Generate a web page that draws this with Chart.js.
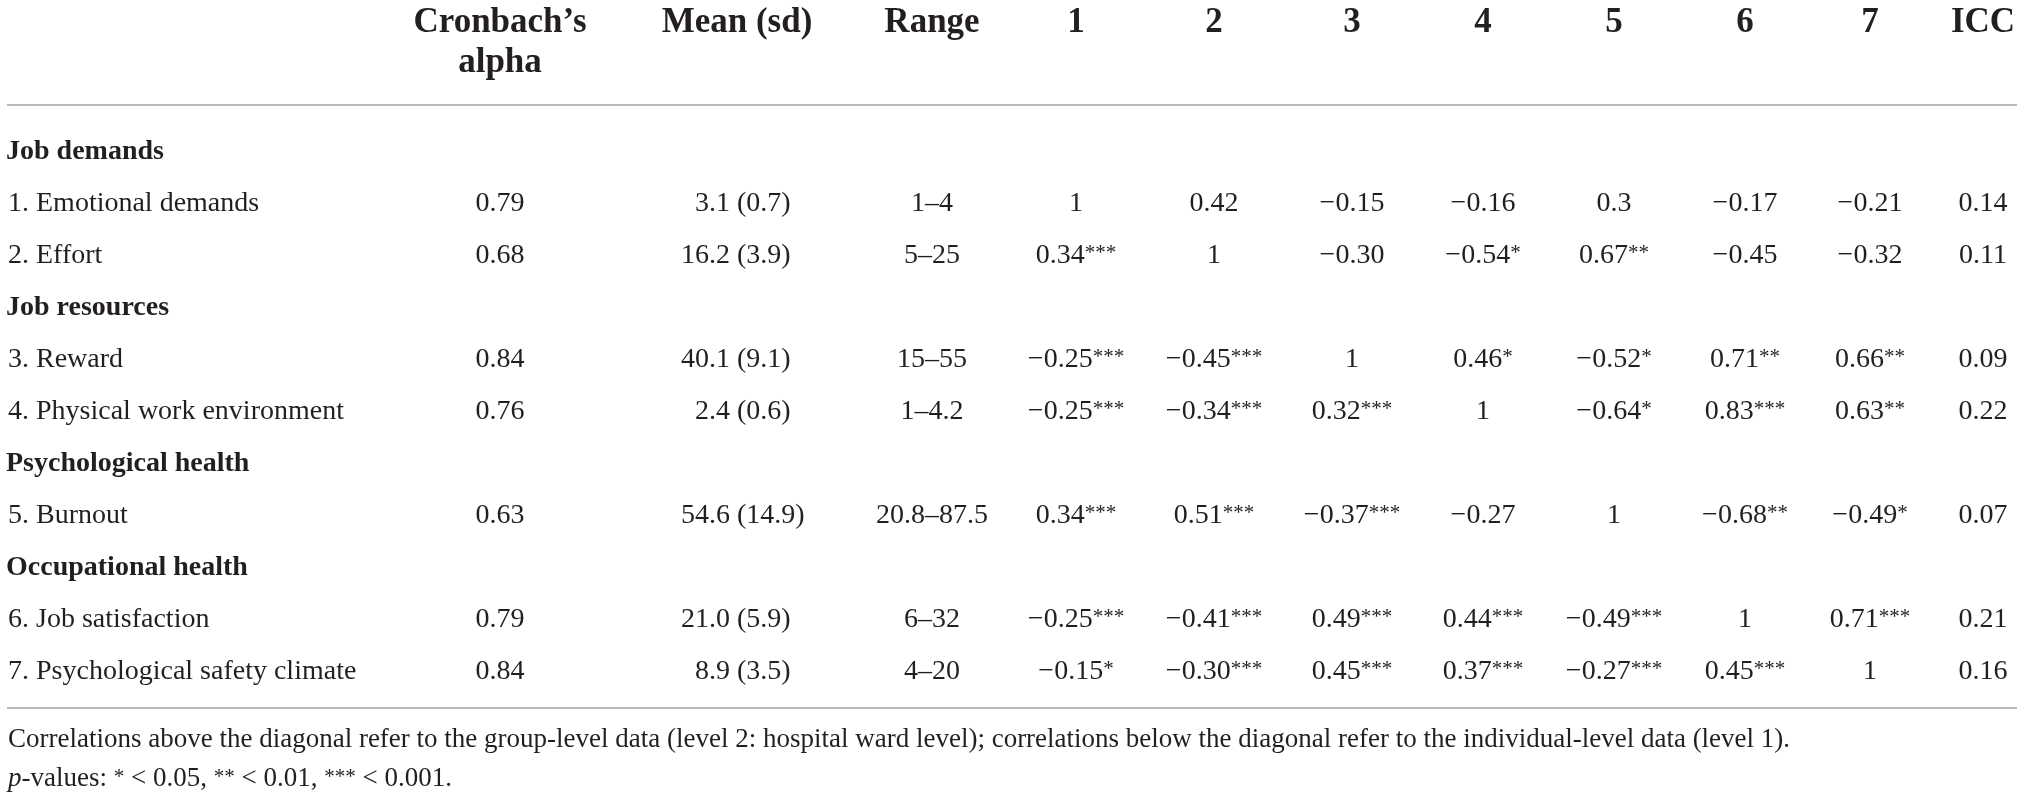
<!DOCTYPE html>
<html>
<head>
<meta charset="utf-8">
<title>Table</title>
<script src="https://cdn.jsdelivr.net/npm/chart.js@4.4.0/dist/chart.umd.min.js"></script>
<style>
    html, body { margin: 0; padding: 0; background: #fff; }
    canvas { display: block; }
</style>
</head>
<body>
<canvas id="canvas" width="2023" height="799"></canvas>
<script>
// --- table contents ---
var colHeaders = [['Cronbach’s', 'alpha'], ['Mean (sd)'], ['Range'], ['1'], ['2'], ['3'], ['4'], ['5'], ['6'], ['7'], ['ICC']];

var groupNames = ['Job demands', 'Job resources', 'Psychological health', 'Occupational health'];
var groupSizes = [2, 2, 1, 2];

var variables = [
    '1. Emotional demands',
    '2. Effort',
    '3. Reward',
    '4. Physical work environment',
    '5. Burnout',
    '6. Job satisfaction',
    '7. Psychological safety climate'
];
var alphas = [0.79, 0.68, 0.84, 0.76, 0.63, 0.79, 0.84];
var means = [3.1, 16.2, 40.1, 2.4, 54.6, 21.0, 8.9];
var sds = [0.7, 3.9, 9.1, 0.6, 14.9, 5.9, 3.5];
var ranges = ['1–4', '5–25', '15–55', '1–4.2', '20.8–87.5', '6–32', '4–20'];
var correlations = [
    ['1', '0.42', '−0.15', '−0.16', '0.3', '−0.17', '−0.21'],
    ['0.34***', '1', '−0.30', '−0.54*', '0.67**', '−0.45', '−0.32'],
    ['−0.25***', '−0.45***', '1', '0.46*', '−0.52*', '0.71**', '0.66**'],
    ['−0.25***', '−0.34***', '0.32***', '1', '−0.64*', '0.83***', '0.63**'],
    ['0.34***', '0.51***', '−0.37***', '−0.27', '1', '−0.68**', '−0.49*'],
    ['−0.25***', '−0.41***', '0.49***', '0.44***', '−0.49***', '1', '0.71***'],
    ['−0.15*', '−0.30***', '0.45***', '0.37***', '−0.27***', '0.45***', '1']
];
var iccs = [0.14, 0.11, 0.09, 0.22, 0.07, 0.21, 0.16];

var note1 = 'Correlations above the diagonal refer to the group-level data (level 2: hospital ward level); correlations below the diagonal refer to the individual-level data (level 1).';
var note2 = [['p', 'italic'], ['-values: ', ''], ['*', 'sup'], [' < 0.05, ', ''], ['**', 'sup'], [' < 0.01, ', ''], ['***', 'sup'], [' < 0.001.', '']];

// --- layout (pixels) ---
var firstRowPx = 150;
var rowStepPx = 52;
var labelX = 8;
var colX = [500, 737, 932, 1076, 1214, 1352, 1483, 1614, 1745, 1870, 1983];
var headerBaselines = [32, 72];
var headerRulePx = 105;
var bottomRulePx = 708;
var noteBaselines = [747, 786];

var INK = '#231f20';
var RULE = '#b9b9b9';
var FAMILY = '"Liberation Serif", "DejaVu Serif", serif';
var BODY = '28px ' + FAMILY;
var GROUP = 'bold 28px ' + FAMILY;
var HEAD = 'bold 35px ' + FAMILY;
var STAR = '21px ' + FAMILY;
var NOTE = '27px ' + FAMILY;
var NOTE_ITALIC = 'italic 27px ' + FAMILY;
var NOTE_STAR = '21px ' + FAMILY;

function rowOf(px) {
    return (px - firstRowPx) / rowStepPx;
}

// row index of every group heading and every variable
var groupRows = [];
var varRows = [];
var r = 0;
groupSizes.forEach(function(size) {
    groupRows.push(r++);
    for (var k = 0; k < size; k++) varRows.push(r++);
});

// --- datasets: one invisible point per cell ---
var datasets = [];

datasets.push({
    kind: 'header',
    labels: colHeaders,
    data: colHeaders.map(function(h, j) { return { x: colX[j], y: rowOf(headerBaselines[0]) }; })
});
datasets.push({
    kind: 'group',
    labels: groupNames,
    data: groupNames.map(function(g, i) { return { x: labelX, y: groupRows[i] }; })
});
datasets.push({
    kind: 'rowlabel',
    labels: variables,
    data: variables.map(function(v, i) { return { x: labelX, y: varRows[i] }; })
});
datasets.push({
    kind: 'cell',
    labels: alphas.map(function(a) { return a.toFixed(2); }),
    data: alphas.map(function(a, i) { return { x: colX[0], y: varRows[i] }; })
});
datasets.push({
    kind: 'mean',
    labels: means.map(function(m, i) { return [m.toFixed(1), '(' + sds[i].toFixed(1) + ')']; }),
    data: means.map(function(m, i) { return { x: colX[1], y: varRows[i] }; })
});
datasets.push({
    kind: 'cell',
    labels: ranges,
    data: ranges.map(function(g, i) { return { x: colX[2], y: varRows[i] }; })
});
for (var c = 0; c < 7; c++) {
    (function(c) {
        datasets.push({
            kind: 'cell',
            labels: correlations.map(function(row) { return row[c]; }),
            data: correlations.map(function(row, i) { return { x: colX[3 + c], y: varRows[i] }; })
        });
    })(c);
}
datasets.push({
    kind: 'cell',
    labels: iccs.map(function(v) { return v.toFixed(2); }),
    data: iccs.map(function(v, i) { return { x: colX[10], y: varRows[i] }; })
});
datasets.push({
    kind: 'note',
    labels: [note1, note2],
    data: noteBaselines.map(function(b) { return { x: labelX, y: rowOf(b) }; })
});

datasets.forEach(function(ds) {
    ds.pointRadius = 0;
    ds.pointHoverRadius = 0;
    ds.showLine = false;
});

function drawStarred(ctx, text, cx, baseline) {
    var m = text.match(/^(.*?)(\*+)$/);
    var num = m ? m[1] : text;
    var stars = m ? m[2] : '';
    ctx.font = BODY;
    var w1 = ctx.measureText(num).width;
    ctx.font = STAR;
    var w2 = stars ? ctx.measureText(stars).width : 0;
    var left = cx - (w1 + w2) / 2;
    ctx.textAlign = 'left';
    ctx.font = BODY;
    ctx.fillText(num, left, baseline);
    if (stars) {
        ctx.font = STAR;
        ctx.fillText(stars, left + w1, baseline - 4);
    }
}

var tablePlugin = {
    id: 'tablePlugin',
    beforeDatasetsDraw: function(chart) {
        var ctx = chart.ctx;
        var xs = chart.scales.x;
        var ys = chart.scales.y;
        ctx.save();
        ctx.strokeStyle = RULE;
        ctx.lineWidth = 2;
        [headerRulePx, bottomRulePx].forEach(function(px) {
            var y = Math.round(ys.getPixelForValue(rowOf(px)));
            ctx.beginPath();
            ctx.moveTo(xs.getPixelForValue(7), y);
            ctx.lineTo(xs.getPixelForValue(2017), y);
            ctx.stroke();
        });
        ctx.restore();
    },
    afterDatasetsDraw: function(chart) {
        var ctx = chart.ctx;
        var lineGap = headerBaselines[1] - headerBaselines[0];
        ctx.save();
        ctx.fillStyle = INK;
        ctx.textBaseline = 'alphabetic';
        chart.data.datasets.forEach(function(ds, di) {
            var meta = chart.getDatasetMeta(di);
            meta.data.forEach(function(pt, i) {
                var label = ds.labels[i];
                var x = pt.x;
                var y = pt.y;
                if (ds.kind === 'header') {
                    ctx.font = HEAD;
                    ctx.textAlign = 'center';
                    label.forEach(function(line, k) {
                        ctx.fillText(line, x, y + k * lineGap);
                    });
                } else if (ds.kind === 'group') {
                    ctx.font = GROUP;
                    ctx.textAlign = 'left';
                    ctx.fillText(label, x - 2, y + 9);
                } else if (ds.kind === 'rowlabel') {
                    ctx.font = BODY;
                    ctx.textAlign = 'left';
                    ctx.fillText(label, x, y + 9);
                } else if (ds.kind === 'mean') {
                    ctx.font = BODY;
                    ctx.textAlign = 'right';
                    ctx.fillText(label[0] + ' ', x, y + 9);
                    ctx.textAlign = 'left';
                    ctx.fillText(label[1], x, y + 9);
                } else if (ds.kind === 'cell') {
                    drawStarred(ctx, label, x, y + 9);
                } else if (ds.kind === 'note') {
                    ctx.textAlign = 'left';
                    if (typeof label === 'string') {
                        ctx.font = NOTE;
                        ctx.fillText(label, x, y);
                    } else {
                        var cx = x;
                        label.forEach(function(seg) {
                            var dy = 0;
                            if (seg[1] === 'italic') ctx.font = NOTE_ITALIC;
                            else if (seg[1] === 'sup') { ctx.font = NOTE_STAR; dy = -3; }
                            else ctx.font = NOTE;
                            ctx.fillText(seg[0], cx, y + dy);
                            cx += ctx.measureText(seg[0]).width;
                        });
                    }
                }
            });
        });
        ctx.restore();
    }
};

new Chart(document.getElementById('canvas').getContext('2d'), {
    type: 'scatter',
    data: { datasets: datasets },
    options: {
        responsive: false,
        animation: false,
        devicePixelRatio: 1,
        layout: { padding: 0 },
        plugins: {
            legend: { display: false },
            tooltip: { enabled: false }
        },
        events: [],
        scales: {
            x: { type: 'linear', display: false, min: 0, max: 2023 },
            y: { type: 'linear', display: false, reverse: true, min: rowOf(0), max: rowOf(799) }
        }
    },
    plugins: [tablePlugin]
});
</script>
</body>
</html>
